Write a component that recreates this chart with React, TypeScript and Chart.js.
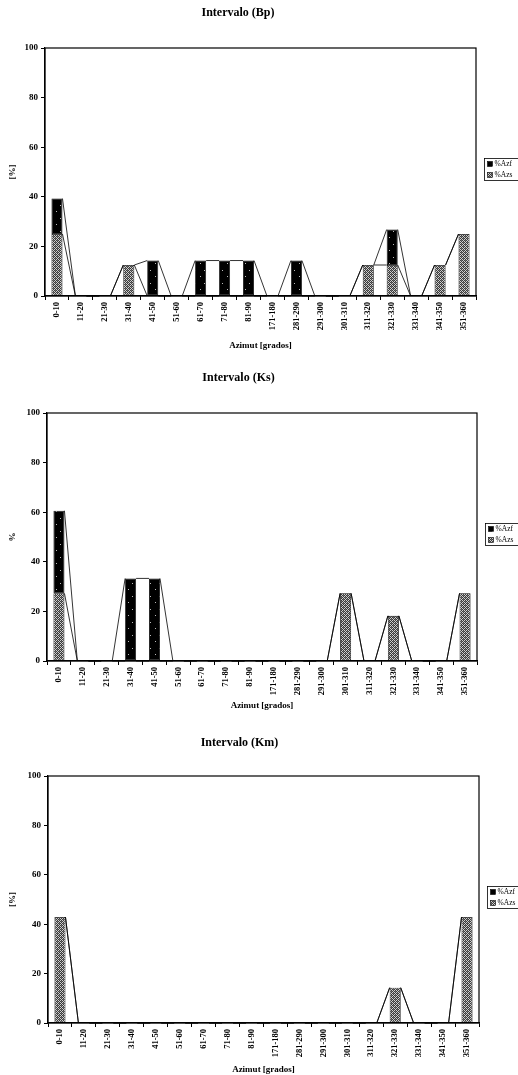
import { useEffect, useRef } from "react";
import { Chart, registerables } from "chart.js";

Chart.register(...registerables);

// Azimuth classes (degrees)
const categories = [
  "0-10", "11-20", "21-30", "31-40", "41-50", "51-60", "61-70", "71-80", "81-90",
  "171-180", "281-290", "291-300", "301-310", "311-320", "321-330", "331-340", "341-350", "351-360",
];

// Interval Bp
const bpAzs = [25, 0, 0, 12.5, 0, 0, 0, 0, 0, 0, 0, 0, 0, 12.5, 12.5, 0, 12.5, 25];
const bpAzf = [14.3, 0, 0, 0, 14.3, 0, 14.3, 14.3, 14.3, 0, 14.3, 0, 0, 0, 14.3, 0, 0, 0];

// Interval Ks
const ksAzs = [27.3, 0, 0, 0, 0, 0, 0, 0, 0, 0, 0, 0, 27.3, 0, 18.2, 0, 0, 27.3];
const ksAzf = [33.3, 0, 0, 33.3, 33.3, 0, 0, 0, 0, 0, 0, 0, 0, 0, 0, 0, 0, 0];

// Interval Km
const kmAzs = [42.9, 0, 0, 0, 0, 0, 0, 0, 0, 0, 0, 0, 0, 0, 14.3, 0, 0, 42.9];
const kmAzf = [0, 0, 0, 0, 0, 0, 0, 0, 0, 0, 0, 0, 0, 0, 0, 0, 0, 0];

const yMin = 0;
const yMax = 100;
const yStep = 20;

const FONT = "'Liberation Serif', 'Times New Roman', serif";
const W = 518;

type Panel = {
  title: string;
  yTitle: string;
  azs: number[];
  azf: number[];
  top: number;
  height: number;
  plotTop: number;
  plotBottom: number;
  plotLeft: number;
  plotRight: number;
  titleY: number;
  xTitleY: number;
};

const panels: Panel[] = [
  { title: "Intervalo (Bp)", yTitle: "[%]", azs: bpAzs, azf: bpAzf, top: 0, height: 356, plotTop: 48, plotBottom: 296, plotLeft: 45, plotRight: 476, titleY: 13, xTitleY: 346 },
  { title: "Intervalo (Ks)", yTitle: "%", azs: ksAzs, azf: ksAzf, top: 365, height: 350, plotTop: 48, plotBottom: 296, plotLeft: 47, plotRight: 477, titleY: 13, xTitleY: 341 },
  { title: "Intervalo (Km)", yTitle: "[%]", azs: kmAzs, azf: kmAzf, top: 729, height: 346, plotTop: 47, plotBottom: 294, plotLeft: 48, plotRight: 479, titleY: 14, xTitleY: 341 },
];

function makePattern(kind: "dark" | "gray"): CanvasPattern | string {
  const c = document.createElement("canvas");
  const g = c.getContext("2d");
  if (!g) return kind === "dark" ? "#000" : "#888";
  if (kind === "dark") {
    c.width = 9;
    c.height = 13;
    g.fillStyle = "#000";
    g.fillRect(0, 0, 9, 13);
    g.fillStyle = "#bbb";
    g.fillRect(2, 3, 1, 1);
    g.fillRect(6, 10, 1, 1);
  } else {
    c.width = 4;
    c.height = 4;
    g.fillStyle = "#cfcfcf";
    g.fillRect(0, 0, 4, 4);
    g.fillStyle = "#3a3a3a";
    for (let y = 0; y < 4; y++) {
      for (let x = 0; x < 4; x++) {
        if ((x + y) % 2 === 0) g.fillRect(x, y, 1, 1);
      }
    }
    g.fillStyle = "#707070";
    g.fillRect(1, 0, 1, 1);
    g.fillRect(3, 2, 1, 1);
  }
  const p = g.createPattern(c, "repeat");
  return p ?? (kind === "dark" ? "#000" : "#888");
}

// Frame around the plot area, the lines joining the stacked levels, and the small legend box.
const decorations = {
  id: "decorations",
  afterDatasetsDraw(chart: any) {
    const { ctx, scales } = chart;
    const y = scales.y;
    const bars = chart.getDatasetMeta(0).data as any[];
    const lower = chart.data.datasets[0].data as number[];
    const upper = chart.data.datasets[1].data as number[];
    ctx.save();
    ctx.strokeStyle = "#000";
    ctx.lineWidth = 0.8;
    for (let i = 0; i < bars.length - 1; i++) {
      const a = bars[i];
      const b = bars[i + 1];
      const x0 = a.x + a.width / 2;
      const x1 = b.x - b.width / 2;
      const levels = [
        [lower[i], lower[i + 1]],
        [lower[i] + upper[i], lower[i + 1] + upper[i + 1]],
      ];
      for (const [l0, l1] of levels) {
        ctx.beginPath();
        ctx.moveTo(x0, y.getPixelForValue(l0));
        ctx.lineTo(x1, y.getPixelForValue(l1));
        ctx.stroke();
      }
    }
    ctx.restore();
  },
  afterDraw(chart: any) {
    const { ctx, chartArea } = chart;
    ctx.save();
    ctx.strokeStyle = "#000";
    ctx.lineWidth = 1.2;
    ctx.strokeRect(chartArea.left, chartArea.top, chartArea.right - chartArea.left, chartArea.bottom - chartArea.top);

    // legend
    const ds = chart.data.datasets;
    const cy = (chartArea.top + chartArea.bottom) / 2 - 3;
    const bx = chartArea.right + 8.5;
    const by = Math.round(cy - 11) + 0.5;
    ctx.lineWidth = 0.8;
    ctx.strokeRect(bx, by, 44, 22);
    const items = [ds[1], ds[0]];
    ctx.font = `7.5px ${FONT}`;
    ctx.textBaseline = "middle";
    items.forEach((d: any, k: number) => {
      const iy = by + 5.5 + k * 11;
      ctx.fillStyle = d.backgroundColor;
      ctx.fillRect(bx + 3, iy - 2.5, 5, 5);
      ctx.strokeStyle = "#000";
      ctx.lineWidth = 0.6;
      ctx.strokeRect(bx + 3, iy - 2.5, 5, 5);
      ctx.fillStyle = "#000";
      ctx.fillText(d.label, bx + 10, iy);
    });
    ctx.restore();
  },
};

function PanelChart({ p }: { p: Panel }) {
  const ref = useRef<HTMLCanvasElement | null>(null);
  useEffect(() => {
    const canvas = ref.current;
    if (!canvas) return;
    const titleLH = 12 * 1.2;
    const axisLH = 9 * 1.2;
    const chart = new Chart(canvas, {
      type: "bar",
      data: {
        labels: categories,
        datasets: [
          {
            label: "%Azs",
            data: p.azs,
            backgroundColor: makePattern("gray") as any,
            borderColor: "#000",
            borderWidth: 0.8,
            borderSkipped: false,
            barPercentage: 0.46,
            categoryPercentage: 1,
          },
          {
            label: "%Azf",
            data: p.azf,
            backgroundColor: makePattern("dark") as any,
            borderColor: "#000",
            borderWidth: 0.8,
            borderSkipped: false,
            barPercentage: 0.46,
            categoryPercentage: 1,
          },
        ],
      },
      options: {
        responsive: false,
        animation: false,
        devicePixelRatio: 1,
        layout: { padding: { left: 0, right: W - p.plotRight, top: 0, bottom: 0 } },
        plugins: {
          legend: { display: false },
          tooltip: { enabled: false },
          title: {
            display: true,
            text: p.title,
            color: "#000",
            font: { family: FONT, size: 12, weight: "bold" },
            padding: { top: p.titleY - titleLH / 2, bottom: p.plotTop - (p.titleY - titleLH / 2) - titleLH },
          },
        },
        scales: {
          x: {
            stacked: true,
            offset: true,
            grid: { display: true, offset: true, drawOnChartArea: false, drawTicks: true, tickLength: 4, color: "#000", lineWidth: 1 },
            border: { display: true, color: "#000", width: 1.2 },
            ticks: {
              autoSkip: false,
              minRotation: 90,
              maxRotation: 90,
              padding: 2,
              color: "#000",
              font: { family: FONT, size: 8.5, weight: "bold" },
            },
            title: {
              display: true,
              text: "Azimut [grados]",
              color: "#000",
              font: { family: FONT, size: 9, weight: "bold" },
              padding: { top: 0, bottom: p.height - p.xTitleY - axisLH / 2 },
            },
            afterFit: (scale: any) => {
              scale.height = p.height - p.plotBottom;
            },
          },
          y: {
            stacked: true,
            min: yMin,
            max: yMax,
            ticks: {
              stepSize: yStep,
              padding: 3,
              color: "#000",
              font: { family: FONT, size: 9, weight: "bold" },
            },
            grid: { display: true, drawOnChartArea: false, drawTicks: true, tickLength: 4, color: "#000", lineWidth: 1 },
            border: { display: true, color: "#000", width: 1.2 },
            title: {
              display: true,
              text: p.yTitle,
              color: "#000",
              font: { family: FONT, size: 9, weight: "bold" },
              padding: { top: 13 - axisLH / 2, bottom: 0 },
            },
            afterFit: (scale: any) => {
              scale.width = p.plotLeft;
            },
          },
        },
      },
      plugins: [decorations],
    });
    return () => chart.destroy();
  }, [p]);
  return (
    <canvas
      ref={ref}
      width={W}
      height={p.height}
      style={{ position: "absolute", left: 0, top: p.top, width: W, height: p.height }}
    />
  );
}

export default function App() {
  return (
    <div style={{ position: "absolute", left: 0, top: 0, width: W, height: 1075, background: "#fff", overflow: "hidden" }}>
      {panels.map((p) => (
        <PanelChart key={p.title} p={p} />
      ))}
    </div>
  );
}
